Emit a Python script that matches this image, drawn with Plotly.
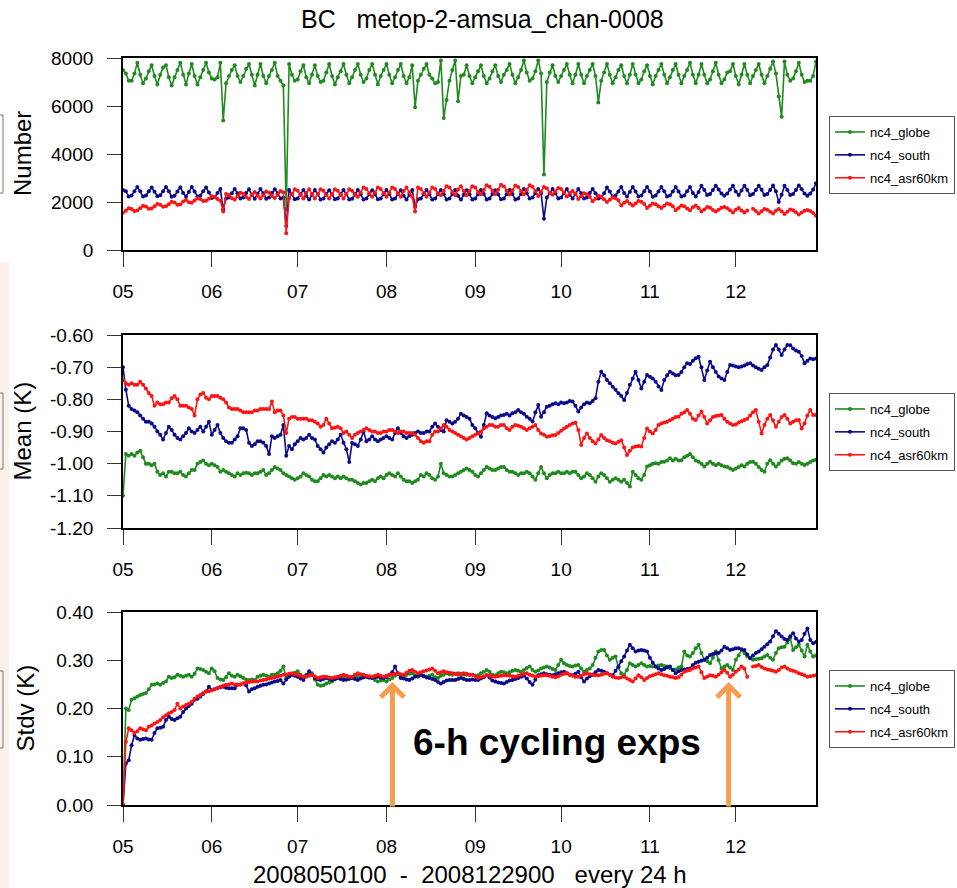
import plotly.graph_objects as go
import pandas as pd

# ---------------- data ----------------
START_DATE = "2008-05-01"
END_DATE = "2008-12-29"
SERIES_NAMES = ["nc4_globe", "nc4_south", "nc4_asr60km"]
SERIES_COLORS = ["#1f8b1f", "#0b0b8a", "#ff1414"]

MONTH_TICKS = ["2008-05-01", "2008-06-01", "2008-07-01", "2008-08-01",
               "2008-09-01", "2008-10-01", "2008-11-01", "2008-12-01"]
MONTH_LABELS = ["05", "06", "07", "08", "09", "10", "11", "12"]

NUM_TICKS = [0, 2000, 4000, 6000, 8000]
NUM_LABELS = ["0", "2000", "4000", "6000", "8000"]
MEAN_TICKS = [-1.2, -1.1, -1.0, -0.9, -0.8, -0.7, -0.6]
MEAN_LABELS = ["-1.20", "-1.10", "-1.00", "-0.90", "-0.80", "-0.70", "-0.60"]
STD_TICKS = [0.0, 0.1, 0.2, 0.3, 0.4]
STD_LABELS = ["0.00", "0.10", "0.20", "0.30", "0.40"]

number_globe = [
    7500, 7350, 7050, 7050, 7350, 7800, 7300, 6950, 7150, 7450,
    7700, 7250, 6900, 7300, 7600, 7700, 7200, 6850, 7200, 7500,
    7800, 7300, 6900, 7350, 7750, 7250, 6900, 7200, 7500, 7800,
    7400, 7150, 7100, 7200, 7800, 5400, 6950, 7250, 7500, 7700,
    7250, 7000, 7250, 7550, 7750, 7300, 6850, 7300, 7750, 7250,
    6950, 7250, 7500, 7800, 7250, 7050, 6850, 1700, 7750, 7300,
    7050, 7100, 7450, 7700, 7200, 6950, 7300, 7700, 7250, 7000,
    7050, 7400, 7750, 7250, 6900, 7200, 7450, 7750, 7300, 6950,
    7200, 7500, 7750, 7300, 7000, 7150, 7500, 7750, 7300, 6900,
    7250, 7500, 7750, 7300, 6950, 7200, 7500, 7750, 7250, 6950,
    7200, 7700, 5950, 7050, 7300, 7550, 7750, 7300, 7150, 6950,
    7000, 7900, 5500, 6250, 7050, 7500, 7900, 6200, 7250, 7300,
    7700, 7250, 6950, 7200, 7450, 7700, 7250, 6950, 7150, 7450,
    7700, 7250, 7000, 7300, 7500, 7750, 7300, 6950, 7200, 7500,
    7900, 7400, 7050, 7150, 7450, 7900, 7350, 3150, 7000, 7400,
    7700, 7250, 7000, 7250, 7500, 7750, 7300, 6950, 7300, 7750,
    7300, 6950, 7250, 7500, 7750, 7250, 6150, 7050, 7400, 7750,
    7300, 6950, 7200, 7500, 7700, 7250, 6950, 7300, 7750, 7300,
    6950, 7100, 7450, 7700, 7250, 6900, 7250, 7500, 7750, 7300,
    6950, 7200, 7500, 7750, 7300, 6950, 7250, 7500, 7800, 7300,
    6950, 7300, 7750, 7300, 6950, 7100, 7450, 7800, 7300, 6950,
    7100, 7400, 7450, 7750, 7250, 6900, 7300, 7750, 7300, 6950,
    7250, 7500, 7750, 7300, 6950, 7250, 7550, 7850, 7350, 6400,
    5550, 7850, 7300, 7050, 7150, 7450, 7800, 7300, 7000, 7050,
    7050, 7250, 7850,
]
number_south = [
    2500, 2445, 2225, 2270, 2445, 2620, 2445, 2225, 2270, 2445,
    2600, 2430, 2240, 2280, 2450, 2630, 2450, 2220, 2260, 2440,
    2610, 2380, 2230, 2420, 2620, 2440, 2230, 2270, 2450, 2600,
    2400, 2170, 2200, 2380, 2540, 1700, 2150, 2190, 2360, 2540,
    2360, 2150, 2190, 2370, 2530, 2300, 2140, 2340, 2540, 2360,
    2140, 2190, 2370, 2530, 2360, 2150, 2180, 1000, 2500, 2320,
    2110, 2150, 2320, 2500, 2260, 2100, 2300, 2500, 2330, 2100,
    2150, 2330, 2490, 2320, 2110, 2150, 2320, 2500, 2330, 2100,
    2140, 2320, 2500, 2320, 2100, 2150, 2330, 2490, 2320, 2110,
    2150, 2320, 2500, 2330, 2100, 2150, 2330, 2490, 2260, 2100,
    2300, 2500, 1800, 2110, 2150, 2320, 2500, 2320, 2100, 2150,
    2330, 2500, 2320, 2100, 2150, 2330, 2500, 2260, 2100, 2300,
    2490, 2320, 2100, 2150, 2320, 2500, 2330, 2100, 2150, 2330,
    2490, 2320, 2110, 2150, 2320, 2500, 2330, 2100, 2150, 2330,
    2540, 2360, 2150, 2190, 2360, 2540, 2360, 1300, 2190, 2370,
    2540, 2360, 2150, 2190, 2360, 2540, 2300, 2150, 2340, 2540,
    2360, 2150, 2190, 2370, 2540, 2360, 2150, 2190, 2360, 2600,
    2440, 2230, 2270, 2440, 2620, 2380, 2230, 2420, 2620, 2440,
    2230, 2270, 2450, 2620, 2440, 2220, 2270, 2440, 2620, 2450,
    2230, 2270, 2440, 2620, 2440, 2230, 2270, 2450, 2620, 2380,
    2230, 2420, 2680, 2500, 2290, 2330, 2500, 2680, 2520, 2350,
    2260, 2350, 2520, 2680, 2440, 2290, 2480, 2680, 2500, 2280,
    2330, 2500, 2680, 2510, 2290, 2330, 2500, 2690, 2450, 2000,
    2300, 2680, 2500, 2290, 2330, 2500, 2690, 2530, 2350, 2260,
    2350, 2520, 2780,
]
number_asr60km = [
    1550, 1640, 1740, 1710, 1620, 1650, 1740, 1840, 1810, 1720,
    1730, 1820, 1920, 1890, 1800, 1820, 1910, 2010, 1980, 1890,
    1900, 2020, 2090, 1990, 1970, 2060, 2160, 2130, 2040, 2050,
    2140, 2240, 2210, 2120, 2050, 1600, 2335, 2290, 2155, 2100,
    2235, 2385, 2340, 2205, 2130, 2310, 2415, 2265, 2150, 2285,
    2435, 2390, 2255, 2170, 2305, 2455, 2410, 700, 2150, 2330,
    2530, 2470, 2290, 2150, 2390, 2530, 2330, 2150, 2330, 2530,
    2470, 2290, 2150, 2330, 2530, 2470, 2290, 2150, 2330, 2530,
    2470, 2290, 2220, 2400, 2600, 2540, 2360, 2220, 2400, 2600,
    2540, 2360, 2220, 2400, 2600, 2540, 2360, 2220, 2460, 2600,
    2400, 2220, 1600, 2600, 2540, 2360, 2220, 2400, 2600, 2540,
    2360, 2280, 2460, 2660, 2600, 2420, 2280, 2520, 2660, 2460,
    2280, 2460, 2660, 2600, 2420, 2320, 2500, 2700, 2640, 2460,
    2330, 2510, 2720, 2650, 2470, 2310, 2490, 2690, 2630, 2450,
    2320, 2500, 2700, 2640, 2460, 2250, 2430, 2630, 2570, 2390,
    2300, 2435, 2585, 2540, 2405, 2230, 2375, 2460, 2340, 2130,
    2240, 2360, 2320, 2215, 2030, 2140, 2260, 2220, 2115, 2000,
    2090, 2190, 2160, 2070, 1850, 1970, 2040, 1940, 1850, 1940,
    2040, 2010, 1920, 1750, 1840, 1940, 1910, 1820, 1750, 1840,
    1940, 1910, 1820, 1660, 1750, 1850, 1820, 1730, 1660, 1780,
    1850, 1750, 1600, 1690, 1790, 1760, 1670, 1600, 1680, 1760,
    1790, 1740, 1660, 1560, 1680, 1750, 1650, 1560, 1650, None,
    1720, 1630, 1520, 1610, 1710, 1680, 1590, 1520, 1640, 1710,
    1610, 1500, 1590, 1690, 1660, 1570, 1480, 1560, 1640, 1670,
    1620, 1540, 1430,
]

mean_globe = [
    -1.100, -0.970, -0.975, -0.970, -0.975, -0.965, -0.960, -0.980, -1.000, -1.000,
    -1.005, -1.000, -1.025, -1.035, -1.030, -1.040, -1.025, -1.025, -1.030, -1.030,
    -1.025, -1.035, -1.040, -1.030, -1.020, -1.020, -1.000, -0.995, -0.990, -1.000,
    -1.005, -1.000, -1.005, -1.010, -1.025, -1.020, -1.025, -1.030, -1.035, -1.040,
    -1.030, -1.035, -1.030, -1.028, -1.030, -1.035, -1.030, -1.030, -1.025, -1.020,
    -1.035, -1.030, -1.020, -1.010, -1.015, -1.020, -1.030, -1.035, -1.040, -1.045,
    -1.050, -1.045, -1.040, -1.030, -1.035, -1.040, -1.050, -1.055, -1.055, -1.045,
    -1.035, -1.040, -1.035, -1.040, -1.045, -1.040, -1.045, -1.040, -1.045, -1.050,
    -1.050, -1.055, -1.060, -1.065, -1.060, -1.060, -1.055, -1.050, -1.055, -1.045,
    -1.040, -1.045, -1.035, -1.030, -1.035, -1.040, -1.030, -1.040, -1.050, -1.055,
    -1.055, -1.060, -1.055, -1.050, -1.035, -1.040, -1.030, -1.035, -1.045, -1.050,
    -1.040, -1.000, -1.030, -1.035, -1.040, -1.040, -1.035, -1.030, -1.025, -1.020,
    -1.015, -1.020, -1.025, -1.035, -1.040, -1.030, -1.020, -1.010, -1.015, -1.020,
    -1.020, -1.015, -1.010, -1.010, -1.020, -1.025, -1.025, -1.030, -1.035, -1.030,
    -1.030, -1.025, -1.030, -1.040, -1.050, -1.030, -1.010, -1.030, -1.045, -1.035,
    -1.030, -1.030, -1.025, -1.030, -1.030, -1.025, -1.030, -1.025, -1.025, -1.035,
    -1.045, -1.040, -1.030, -1.035, -1.045, -1.056, -1.040, -1.030, -1.035, -1.045,
    -1.056, -1.050, -1.045, -1.050, -1.056, -1.050, -1.060, -1.071, -1.025, -1.035,
    -1.045, -1.050, -1.035, -1.009, -1.005, -1.000, -0.999, -1.000, -0.995, -0.994,
    -0.990, -0.983, -0.990, -0.985, -0.990, -0.989, -0.980, -0.975, -0.970, -0.980,
    -0.990, -0.994, -1.000, -1.009, -1.000, -0.994, -1.000, -1.005, -1.000, -1.005,
    -1.009, -1.010, -1.015, -1.020, -1.015, -1.010, -1.005, -1.009, -1.000, -0.995,
    -0.994, -1.000, -1.010, -1.020, -1.025, -1.000, -0.989, -1.000, -1.009, -1.000,
    -0.990, -0.985, -0.983, -0.990, -0.999, -1.000, -0.995, -1.000, -1.004, -1.000,
    -0.995, -0.990, -0.988,
]
mean_south = [
    -0.700, -0.770, -0.820, -0.830, -0.835, -0.840, -0.850, -0.860, -0.870, -0.870,
    -0.875, -0.885, -0.900, -0.910, -0.925, -0.905, -0.885, -0.895, -0.910, -0.920,
    -0.925, -0.915, -0.905, -0.890, -0.900, -0.905, -0.895, -0.885, -0.900, -0.885,
    -0.870, -0.910, -0.895, -0.880, -0.905, -0.920, -0.930, -0.935, -0.935, -0.925,
    -0.915, -0.890, -0.890, -0.895, -0.935, -0.945, -0.940, -0.930, -0.930, -0.935,
    -0.945, -0.970, -0.915, -0.920, -0.915, -0.910, -0.880, -0.975, -0.945, -0.955,
    -0.940, -0.930, -0.920, -0.925, -0.920, -0.910, -0.920, -0.925, -0.945, -0.955,
    -0.965, -0.950, -0.940, -0.930, -0.935, -0.925, -0.910, -0.935, -0.955, -0.995,
    -0.935, -0.940, -0.945, -0.925, -0.900, -0.930, -0.925, -0.915, -0.925, -0.930,
    -0.925, -0.920, -0.915, -0.920, -0.925, -0.905, -0.890, -0.905, -0.915, -0.920,
    -0.915, -0.910, -0.905, -0.900, -0.905, -0.905, -0.900, -0.900, -0.885, -0.875,
    -0.885, -0.895, -0.900, -0.865, -0.870, -0.875, -0.870, -0.860, -0.845, -0.850,
    -0.855, -0.860, -0.880, -0.890, -0.905, -0.916, -0.880, -0.843, -0.850, -0.855,
    -0.859, -0.855, -0.850, -0.849, -0.845, -0.850, -0.843, -0.840, -0.833, -0.840,
    -0.845, -0.854, -0.860, -0.869, -0.840, -0.818, -0.854, -0.840, -0.823, -0.820,
    -0.815, -0.812, -0.815, -0.810, -0.812, -0.810, -0.805, -0.807, -0.820, -0.838,
    -0.825, -0.815, -0.810, -0.812, -0.805, -0.797, -0.745, -0.714, -0.725, -0.740,
    -0.750, -0.761, -0.770, -0.781, -0.790, -0.802, -0.780, -0.755, -0.735, -0.714,
    -0.740, -0.766, -0.745, -0.724, -0.730, -0.735, -0.745, -0.760, -0.771, -0.740,
    -0.725, -0.714, -0.720, -0.725, -0.724, -0.715, -0.700, -0.688, -0.690, -0.680,
    -0.672, -0.668, -0.700, -0.740, -0.710, -0.683, -0.700, -0.715, -0.729, -0.735,
    -0.740, -0.715, -0.693, -0.695, -0.698, -0.700, -0.698, -0.695, -0.690, -0.688,
    -0.695, -0.700, -0.705, -0.709, -0.700, -0.693, -0.670, -0.645, -0.631, -0.645,
    -0.662, -0.645, -0.631, -0.632, -0.642, -0.648, -0.652, -0.665, -0.688, -0.680,
    -0.673, -0.675, -0.673,
]
mean_asr60km = [
    -0.740, -0.750, -0.755, -0.750, -0.755, -0.755, -0.745, -0.755, -0.766, -0.780,
    -0.790, -0.820, -0.810, -0.815, -0.815, -0.810, -0.810, -0.797, -0.790, -0.800,
    -0.820, -0.820, -0.820, -0.825, -0.830, -0.850, -0.800, -0.785, -0.780, -0.795,
    -0.800, -0.790, -0.790, -0.790, -0.795, -0.800, -0.810, -0.825, -0.830, -0.830,
    -0.830, -0.835, -0.840, -0.840, -0.840, -0.840, -0.835, -0.835, -0.830, -0.830,
    -0.830, -0.830, -0.807, -0.840, -0.835, -0.835, -0.850, -0.905, -0.860, -0.855,
    -0.855, -0.860, -0.860, -0.860, -0.860, -0.865, -0.865, -0.870, -0.875, -0.885,
    -0.880, -0.860, -0.875, -0.890, -0.888, -0.885, -0.890, -0.905, -0.900, -0.910,
    -0.920, -0.910, -0.905, -0.900, -0.895, -0.890, -0.895, -0.900, -0.900, -0.905,
    -0.905, -0.900, -0.900, -0.895, -0.895, -0.900, -0.905, -0.900, -0.900, -0.905,
    -0.905, -0.905, -0.910, -0.920, -0.930, -0.935, -0.930, -0.930, -0.910, -0.900,
    -0.900, -0.890, -0.880, -0.885, -0.895, -0.900, -0.905, -0.910, -0.915, -0.920,
    -0.925, -0.920, -0.915, -0.910, -0.906, -0.900, -0.891, -0.885, -0.880, -0.880,
    -0.885, -0.885, -0.880, -0.880, -0.890, -0.895, -0.885, -0.880, -0.882, -0.885,
    -0.890, -0.895, -0.890, -0.885, -0.880, -0.895, -0.906, -0.910, -0.916, -0.915,
    -0.912, -0.911, -0.905, -0.898, -0.891, -0.885, -0.880, -0.875, -0.873, -0.895,
    -0.942, -0.920, -0.906, -0.920, -0.930, -0.937, -0.925, -0.911, -0.920, -0.927,
    -0.930, -0.935, -0.937, -0.932, -0.927, -0.950, -0.973, -0.960, -0.950, -0.947,
    -0.945, -0.947, -0.920, -0.891, -0.900, -0.906, -0.895, -0.880, -0.875, -0.872,
    -0.870, -0.865, -0.860, -0.855, -0.854, -0.845, -0.840, -0.833, -0.845, -0.860,
    -0.864, -0.850, -0.838, -0.855, -0.875, -0.865, -0.855, -0.852, -0.850, -0.849,
    -0.860, -0.870, -0.875, -0.880, -0.878, -0.872, -0.868, -0.864, -0.860, -0.850,
    -0.840, -0.833, -0.870, -0.906, -0.880, -0.860, -0.849, -0.865, -0.885, -0.870,
    -0.855, -0.849, -0.860, -0.875, -0.870, -0.865, -0.864, -0.891, -0.875, -0.850,
    -0.833, -0.849, -0.849,
]

stdv_globe = [
    0.000, 0.200, 0.197, 0.218, 0.221, 0.225, 0.228, 0.230, 0.232, 0.240,
    0.249, 0.250, 0.252, 0.249, 0.253, 0.256, 0.266, 0.263, 0.265, 0.270,
    0.268, 0.266, 0.268, 0.270, 0.266, 0.272, 0.283, 0.282, 0.280, 0.276,
    0.273, 0.283, 0.277, 0.263, 0.260, 0.259, 0.265, 0.273, 0.268, 0.266,
    0.270, 0.267, 0.263, 0.260, 0.259, 0.260, 0.259, 0.266, 0.268, 0.270,
    0.268, 0.266, 0.270, 0.270, 0.273, 0.278, 0.287, 0.263, 0.267, 0.270,
    0.274, 0.277, 0.270, 0.266, 0.270, 0.271, 0.273, 0.260, 0.249, 0.247,
    0.248, 0.252, 0.254, 0.256, 0.260, 0.263, 0.265, 0.266, 0.260, 0.261,
    0.263, 0.265, 0.266, 0.263, 0.265, 0.266, 0.264, 0.263, 0.259, 0.256,
    0.258, 0.259, 0.256, 0.260, 0.263, 0.268, 0.273, 0.265, 0.263, 0.270,
    0.272, 0.273, 0.268, 0.266, 0.270, 0.268, 0.266, 0.268, 0.270, 0.265,
    0.263, 0.268, 0.270, 0.273, 0.271, 0.270, 0.272, 0.273, 0.271, 0.270,
    0.270, 0.270, 0.270, 0.268, 0.269, 0.273, 0.276, 0.280, 0.276, 0.270,
    0.269, 0.273, 0.276, 0.275, 0.273, 0.275, 0.278, 0.280, 0.278, 0.276,
    0.280, 0.284, 0.287, 0.280, 0.276, 0.279, 0.283, 0.285, 0.287, 0.285,
    0.282, 0.280, 0.290, 0.301, 0.294, 0.290, 0.288, 0.287, 0.289, 0.290,
    0.283, 0.276, 0.280, 0.283, 0.290, 0.305, 0.318, 0.321, 0.321, 0.310,
    0.301, 0.305, 0.308, 0.285, 0.273, 0.269, 0.280, 0.294, 0.290, 0.287,
    0.290, 0.294, 0.290, 0.287, 0.288, 0.287, 0.287, 0.289, 0.290, 0.288,
    0.287, 0.284, 0.280, 0.281, 0.285, 0.287, 0.318, 0.310, 0.308, 0.315,
    0.325, 0.332, 0.315, 0.301, 0.298, 0.294, 0.305, 0.318, 0.300, 0.283,
    0.287, 0.290, 0.285, 0.280, 0.301, 0.310, 0.321, 0.315, 0.308, 0.305,
    0.301, 0.302, 0.303, 0.304, 0.308, 0.311, 0.305, 0.301, 0.315, 0.325,
    0.327, 0.328, 0.337, 0.346, 0.321, 0.327, 0.332, 0.320, 0.308, 0.332,
    0.318, 0.308, 0.310,
]
stdv_south = [
    0.000, 0.086, 0.093, 0.124, 0.145, 0.138, 0.135, 0.137, 0.138, 0.136,
    0.135, 0.149, 0.159, 0.160, 0.162, 0.176, 0.183, 0.178, 0.176, 0.180,
    0.183, 0.193, 0.200, 0.205, 0.210, 0.218, 0.220, 0.225, 0.230, 0.235,
    0.245, 0.238, 0.240, 0.242, 0.244, 0.245, 0.243, 0.242, 0.242, 0.242,
    0.249, 0.250, 0.252, 0.248, 0.235, 0.240, 0.242, 0.245, 0.247, 0.249,
    0.250, 0.252, 0.254, 0.256, 0.257, 0.259, 0.252, 0.260, 0.266, 0.270,
    0.268, 0.266, 0.262, 0.259, 0.268, 0.277, 0.270, 0.263, 0.260, 0.259,
    0.261, 0.263, 0.261, 0.259, 0.261, 0.263, 0.261, 0.259, 0.260, 0.262,
    0.263, 0.261, 0.259, 0.262, 0.265, 0.266, 0.264, 0.263, 0.265, 0.266,
    0.264, 0.263, 0.265, 0.270, 0.275, 0.287, 0.272, 0.263, 0.262, 0.260,
    0.259, 0.262, 0.266, 0.268, 0.270, 0.267, 0.264, 0.263, 0.261, 0.259,
    0.255, 0.252, 0.255, 0.258, 0.259, 0.259, 0.259, 0.261, 0.263, 0.261,
    0.259, 0.259, 0.260, 0.259, 0.259, 0.262, 0.265, 0.269, 0.264, 0.258,
    0.256, 0.254, 0.253, 0.252, 0.255, 0.258, 0.259, 0.261, 0.263, 0.266,
    0.268, 0.262, 0.255, 0.249, 0.260, 0.269, 0.271, 0.273, 0.271, 0.270,
    0.269, 0.271, 0.273, 0.275, 0.276, 0.273, 0.270, 0.269, 0.272, 0.276,
    0.265, 0.256, 0.262, 0.267, 0.270, 0.275, 0.280, 0.278, 0.276, 0.273,
    0.270, 0.269, 0.278, 0.287, 0.298, 0.308, 0.320, 0.332, 0.325, 0.318,
    0.320, 0.321, 0.320, 0.318, 0.305, 0.295, 0.287, 0.283, 0.280, 0.282,
    0.285, 0.287, 0.280, 0.273, 0.277, 0.280, 0.281, 0.282, 0.283, 0.290,
    0.295, 0.297, 0.299, 0.301, 0.305, 0.311, 0.313, 0.315, 0.315, 0.320,
    0.328, 0.325, 0.321, 0.323, 0.325, 0.325, 0.323, 0.321, 0.312, 0.304,
    0.310, 0.315, 0.318, 0.323, 0.328, 0.333, 0.339, 0.350, 0.360, 0.355,
    0.349, 0.344, 0.342, 0.350, 0.356, 0.345, 0.339, 0.342, 0.355, 0.366,
    0.342, 0.335, 0.338,
]
stdv_asr60km = [
    0.000, 0.131, 0.159, 0.155, 0.149, 0.153, 0.159, 0.157, 0.155, 0.162,
    0.165, 0.169, 0.172, 0.176, 0.182, 0.186, 0.190, 0.193, 0.197, 0.210,
    0.200, 0.204, 0.207, 0.210, 0.214, 0.220, 0.225, 0.228, 0.232, 0.235,
    0.236, 0.238, 0.240, 0.242, 0.245, 0.247, 0.249, 0.250, 0.252, 0.250,
    0.249, 0.250, 0.252, 0.254, 0.255, 0.256, 0.256, 0.256, 0.258, 0.259,
    0.260, 0.262, 0.263, 0.265, 0.266, 0.268, 0.270, 0.270, 0.272, 0.273,
    0.271, 0.270, 0.268, 0.266, 0.266, 0.268, 0.270, 0.267, 0.263, 0.265,
    0.266, 0.266, 0.264, 0.263, 0.265, 0.266, 0.268, 0.270, 0.268, 0.266,
    0.266, 0.270, 0.273, 0.271, 0.270, 0.268, 0.267, 0.266, 0.268, 0.270,
    0.268, 0.266, 0.268, 0.270, 0.270, 0.272, 0.273, 0.271, 0.270, 0.274,
    0.278, 0.280, 0.276, 0.273, 0.275, 0.277, 0.279, 0.281, 0.283, 0.278,
    0.273, 0.275, 0.277, 0.275, 0.274, 0.273, 0.272, 0.270, 0.272, 0.273,
    0.272, 0.270, 0.270, 0.268, 0.263, 0.265, 0.267, 0.269, 0.268, 0.267,
    0.266, 0.267, 0.268, 0.269, 0.269, 0.268, 0.267, 0.266, 0.268, 0.270,
    0.272, 0.273, 0.270, 0.268, 0.266, 0.267, 0.268, 0.269, 0.269, 0.268,
    0.266, 0.265, 0.267, 0.270, 0.272, 0.273, 0.270, 0.268, 0.266, 0.266,
    0.268, 0.271, 0.273, 0.271, 0.270, 0.269, 0.269, 0.270, 0.272, 0.273,
    0.270, 0.266, 0.264, 0.263, 0.265, 0.266, 0.262, 0.259, 0.256, 0.262,
    0.269, 0.265, 0.259, 0.263, 0.267, 0.269, 0.271, 0.273, 0.271, 0.269,
    0.268, 0.266, 0.265, 0.263, 0.265, 0.270, 0.276, 0.278, 0.280, 0.283,
    0.285, 0.287, 0.275, 0.263, 0.266, 0.269, 0.268, 0.266, 0.270, 0.275,
    0.280, 0.274, 0.266, 0.270, 0.276, 0.281, 0.287, 0.283, 0.266, None,
    0.287, 0.288, 0.290, 0.286, 0.283, 0.281, 0.280, 0.278, 0.276, 0.280,
    0.285, 0.287, 0.283, 0.280, 0.278, 0.276, 0.273, 0.271, 0.269, 0.266,
    0.267, 0.268, 0.269,
]

ARROW_DATES = ["2008-08-03 02:00", "2008-11-28 12:00"]
ARROW_TIP = 0.255
ARROW_TAIL = -0.006

# ---------------- layout helpers ----------------
W, H = 957, 888
FONT = "Liberation Sans, Arial, Helvetica, sans-serif"


def px(x):
    return x / W


def py(y):
    return 1 - y / H


dates = pd.date_range(START_DATE, END_DATE, freq="D")

panels = [
    ([number_globe, number_south, number_asr60km], "x", "y", "legend", (58, 250)),
    ([mean_globe, mean_south, mean_asr60km], "x2", "y2", "legend2", (335, 528)),
    ([stdv_globe, stdv_south, stdv_asr60km], "x3", "y3", "legend3", (612, 805)),
]

fig = go.Figure()
for p, (series, xa, ya, lg, _) in enumerate(panels):
    for name, color, vals in zip(SERIES_NAMES, SERIES_COLORS, series):
        fig.add_trace(go.Scatter(
            x=dates[:len(vals)], y=vals, name=name, mode="lines+markers",
            line=dict(color=color, width=1.6),
            marker=dict(color=color, size=4),
            xaxis=xa, yaxis=ya, legend=lg, legendgroup=f"{lg}_{name}",
            cliponaxis=False, connectgaps=False, hoverinfo="skip",
        ))

x_domain = [px(123), px(816)]
common_axis = dict(
    showline=True, linecolor="black", linewidth=1.8, mirror=True,
    ticks="outside", tickwidth=1.3, tickcolor="#333",
    showgrid=False, zeroline=False, automargin=False,
    tickfont=dict(size=19, color="black", family=FONT),
)
xaxis_cfg = dict(common_axis, type="date", range=[dates[0], dates[-1]],
                 tickvals=MONTH_TICKS, ticktext=MONTH_LABELS, ticklen=15,
                 ticklabelstandoff=8, domain=x_domain)

yinfo = [
    (NUM_TICKS, NUM_LABELS, [0, 8000]),
    (MEAN_TICKS, MEAN_LABELS, [-1.2, -0.6]),
    (STD_TICKS, STD_LABELS, [0.0, 0.4]),
]

layout = dict(
    width=W, height=H, margin=dict(l=0, r=0, t=0, b=0, autoexpand=False),
    paper_bgcolor="white", plot_bgcolor="white",
    font=dict(family=FONT, color="black"),
    hovermode=False,
)
for k, (series, xa, ya, lg, (top, bot)) in enumerate(panels):
    sx = "" if k == 0 else str(k + 1)
    tv, tt, rg = yinfo[k]
    layout["xaxis" + sx] = dict(xaxis_cfg, anchor=ya)
    layout["yaxis" + sx] = dict(common_axis, range=rg, tickvals=tv, ticktext=tt,
                                ticklen=14, ticklabelstandoff=10,
                                domain=[py(bot), py(top)], anchor=xa)

legend_tops = [116, 393, 670]
for k, top in enumerate(legend_tops):
    key = "legend" if k == 0 else f"legend{k + 1}"
    layout[key] = dict(
        x=px(829), y=py(top), xanchor="left", yanchor="top",
        bgcolor="white", bordercolor="#555", borderwidth=1,
        font=dict(size=13, family=FONT, color="black"),
        tracegroupgap=3, itemclick=False, itemdoubleclick=False,
    )


def label(text, x, y, size, angle=0, bold=False):
    return dict(text=f"<b>{text}</b>" if bold else text, x=px(x), y=py(y),
                xref="paper", yref="paper", xanchor="center", yanchor="middle",
                showarrow=False, textangle=angle,
                font=dict(size=size, color="black", family=FONT))


annotations = [
    label("BC\u00a0\u00a0\u00a0metop-2-amsua_chan-0008", 483, 19, 25),
    label("Number", 22, 154, 24, -90),
    label("Mean (K)", 22, 431.5, 24, -90),
    label("Stdv (K)", 25, 708.5, 24, -90),
    label("2008050100\u00a0\u00a0-\u00a0\u00a02008122900\u00a0\u00a0\u00a0every 24 h",
          469.5, 874, 24),
    label("6-h cycling exps", 557, 742, 37, bold=True),
]
for d in ARROW_DATES:
    annotations.append(dict(
        x=d, y=ARROW_TIP, ax=d, ay=ARROW_TAIL, xref="x3", yref="y3",
        axref="x3", ayref="y3", showarrow=True, arrowhead=4, arrowsize=0.9,
        arrowwidth=5, arrowcolor="#f59d4f", standoff=0, text="",
    ))
layout["annotations"] = annotations

shapes = [
    dict(type="rect", xref="paper", yref="paper", x0=0, x1=px(9),
         y0=0, y1=py(262), fillcolor="#fcf0ea", line=dict(width=0), layer="below"),
]
for top, bot in [(115, 193), (393, 469), (671, 748)]:
    shapes.append(dict(type="rect", xref="paper", yref="paper",
                       x0=px(-10), x1=px(3), y0=py(bot), y1=py(top),
                       line=dict(color="#777", width=1), fillcolor="rgba(0,0,0,0)"))
layout["shapes"] = shapes

fig.update_layout(**layout)
fig.write_html("out.html")
